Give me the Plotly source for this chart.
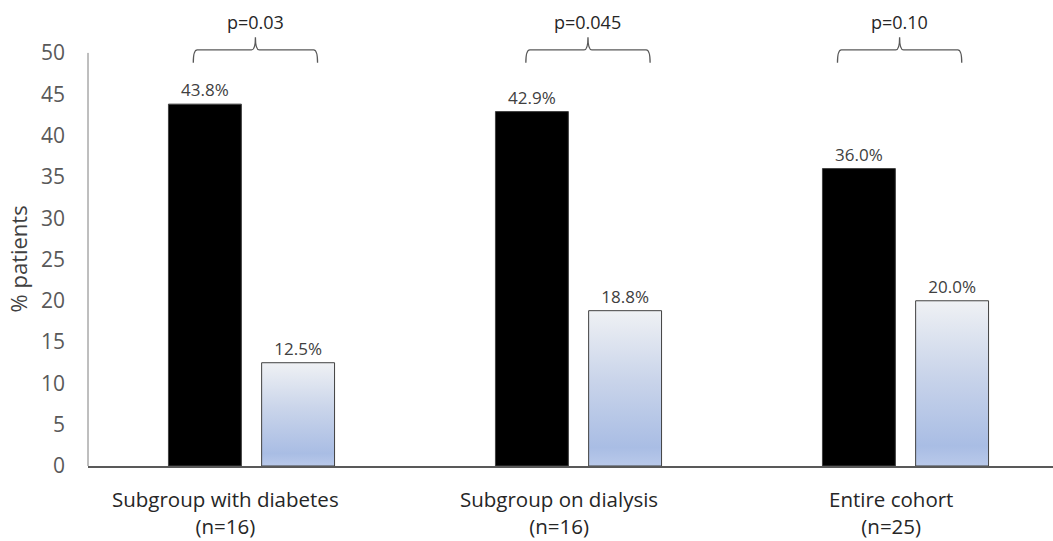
import plotly.graph_objects as go

categories = ["Subgroup with diabetes", "Subgroup on dialysis", "Entire cohort"]
group_sizes = ["(n=16)", "(n=16)", "(n=25)"]
series_a = [43.8, 42.9, 36.0]   # black bars
series_b = [12.5, 18.8, 20.0]   # light gradient bars
p_values = ["p=0.03", "p=0.045", "p=0.10"]
y_ticks = [0, 5, 10, 15, 20, 25, 30, 35, 40, 45, 50]

FONT = "Open Sans"
x_idx = list(range(len(categories)))

# bar geometry (category units)
BW = 0.223
A_OFF = -0.254
B_OFF = 0.031
label_shift = [-0.08, -0.06, -0.045]
brace_shift = [0.012, 0.029, -0.018]
BRACE_HW = 0.19

fig = go.Figure()

fig.add_trace(go.Bar(
    x=x_idx, y=series_a, width=BW, offset=A_OFF,
    marker=dict(color="black", line=dict(color="#404040", width=1)),
    text=[f"{v:.1f}%" for v in series_a], textposition="outside",
    textfont=dict(family=FONT, size=17, color="#404040"),
    cliponaxis=False, showlegend=False, hoverinfo="skip",
))
fig.add_trace(go.Bar(
    x=x_idx, y=series_b, width=BW, offset=B_OFF,
    marker=dict(color="rgba(0,0,0,0)", line=dict(width=0)),
    text=[f"{v:.1f}%" for v in series_b], textposition="outside",
    textfont=dict(family=FONT, size=17, color="#404040"),
    cliponaxis=False, showlegend=False, hoverinfo="skip",
))

# gradient-filled outlines for light bars
for i, v in zip(x_idx, series_b):
    x0, x1 = i + B_OFF, i + B_OFF + BW
    fig.add_trace(go.Scatter(
        x=[x0, x0, x1, x1, x0], y=[0, v, v, 0, 0],
        mode="lines", fill="toself",
        fillgradient=dict(type="vertical",
                          colorscale=[[0, "#b9c9ea"], [0.12, "#a9bde4"], [0.55, "#c9d4ea"], [1, "#eff1f4"]]),
        line=dict(color="#404040", width=1),
        showlegend=False, hoverinfo="skip",
    ))

shapes = []
annotations = []
Y_H, Y_END, Y_TIP = 50.36, 48.8, 51.9
for i, p in enumerate(p_values):
    c = i + brace_shift[i]
    l, r = c - BRACE_HW, c + BRACE_HW
    d = 0.012
    path = (f"M {l},{Y_END} Q {l},{Y_H} {l + d},{Y_H} L {c - d},{Y_H} Q {c},{Y_H} {c},{Y_TIP} "
            f"Q {c},{Y_H} {c + d},{Y_H} L {r - d},{Y_H} Q {r},{Y_H} {r},{Y_END}")
    shapes.append(dict(type="path", path=path, xref="x", yref="y",
                       line=dict(color="#595959", width=1.3)))
    annotations.append(dict(x=c, y=53.75, xref="x", yref="y", text=p, showarrow=False,
                            font=dict(family=FONT, size=18, color="#262626"),
                            xanchor="center", yanchor="middle"))

# category labels (two lines)
for i, (cat, n) in enumerate(zip(categories, group_sizes)):
    xc = i + label_shift[i]
    annotations.append(dict(x=xc, y=0, xref="x", yref="paper", text=f"{cat}<br>{n}",
                            showarrow=False, yshift=-46, xanchor="center", yanchor="middle",
                            font=dict(family=FONT, size=20.5, color="#262626")))

# y axis line (0..50 only)
shapes.append(dict(type="line", xref="paper", yref="y", x0=0, x1=0, y0=0, y1=50,
                   line=dict(color="#7f7f7f", width=1)))

annotations.append(dict(text="% patients", xref="paper", yref="y", x=0, y=25,
                        xshift=-70, textangle=-90, showarrow=False,
                        font=dict(family=FONT, size=22, color="#404040"),
                        xanchor="center", yanchor="middle"))

fig.update_layout(
    width=1053, height=541,
    margin=dict(l=88, r=0, t=5, b=75),
    paper_bgcolor="white", plot_bgcolor="white",
    shapes=shapes, annotations=annotations,
    xaxis=dict(range=[-0.5, -0.5 + 965 / 327], showticklabels=False, showgrid=False, zeroline=False,
               showline=True, linecolor="#595959", linewidth=1.5, ticks=""),
    yaxis=dict(range=[0, 55.8], tickvals=y_ticks, showgrid=False, zeroline=False,
               showline=False, ticks="", ticklabelstandoff=22,
               tickfont=dict(family=FONT, size=21, color="#595959")),
    font=dict(family=FONT),
)

fig.write_html("out.html", config={"displayModeBar": False},
               post_script="document.body.style.margin='0';document.body.style.overflow='hidden';")
